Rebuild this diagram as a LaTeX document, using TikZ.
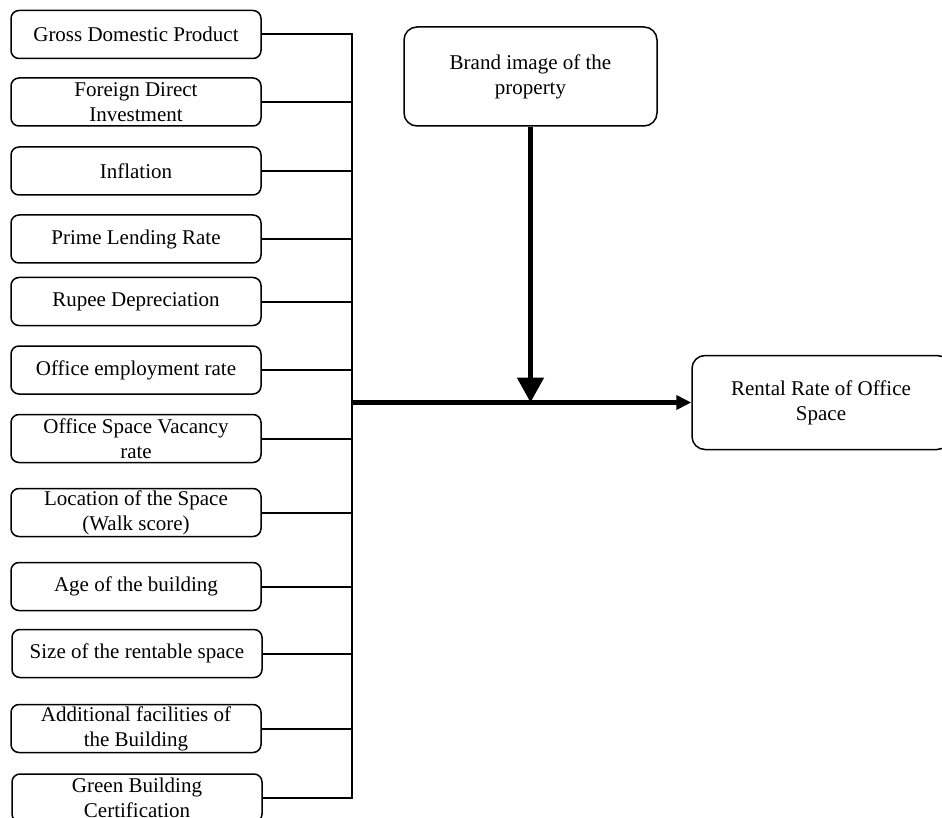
\documentclass[tikz,border=0pt]{standalone}
\usepackage{fontspec}
\setmainfont{Liberation Serif}
\usetikzlibrary{arrows.meta}
\tikzset{
  factor/.style={draw,line width=1.5pt,rounded corners=8pt,minimum width=250pt,minimum height=48pt,inner sep=0pt,align=center,font=\fontsize{21}{25}\selectfont},
  bigbox/.style={factor,rounded corners=13pt,minimum width=253pt,minimum height=99pt},
  link/.style={line width=2pt},
}
\begin{document}
\begin{tikzpicture}[x=1pt,y=-1pt]
\useasboundingbox (0,0) rectangle (942,818);
% Factors
\node[factor] (F1) at (136,34.5) {Gross Domestic Product};
\node[factor] (F2) at (136,102) {Foreign Direct\\Investment};
\node[factor] (F3) at (136,171) {Inflation};
\node[factor] (F4) at (136,239) {Prime Lending Rate};
\node[factor] (F5) at (136,301.5) {Rupee Depreciation};
\node[factor] (F6) at (136,370) {Office employment rate};
\node[factor] (F7) at (136,438.5) {Office Space Vacancy\\rate};
\node[factor] (F8) at (136,512.5) {Location of the Space\\(Walk score)};
\node[factor] (F9) at (136,586.5) {Age of the building};
\node[factor] (F10) at (137,653.5) {Size of the rentable space};
\node[factor] (F11) at (136,728.5) {Additional facilities of\\the Building};
\node[factor] (F12) at (137,798) {Green Building\\Certification};
% Brand and rental
\node[bigbox] (B) at (530.5,76.5) {Brand image of the\\property};
\node[bigbox,minimum width=258pt,minimum height=94pt] (R) at (821,402.5) {Rental Rate of Office\\Space};
% Bus
\coordinate (BT) at (352,34.5);
\coordinate (BB) at (352,798);
\coordinate (J) at (352,402.5);
\draw[link] (F1.east) -| (BB) -- (F12.east);
\foreach \i in {2,...,11}
  \draw[link] (F\i.east) -- (F\i.east -| BT);
% Arrows
\draw[line width=4.5pt,-{Triangle[length=15pt,width=14pt]}] (J) -- (R.west);
\draw[line width=5pt,-{Triangle[length=25pt,width=26pt]}] (B.south) -- (B.south |- J);
\end{tikzpicture}
\end{document}
